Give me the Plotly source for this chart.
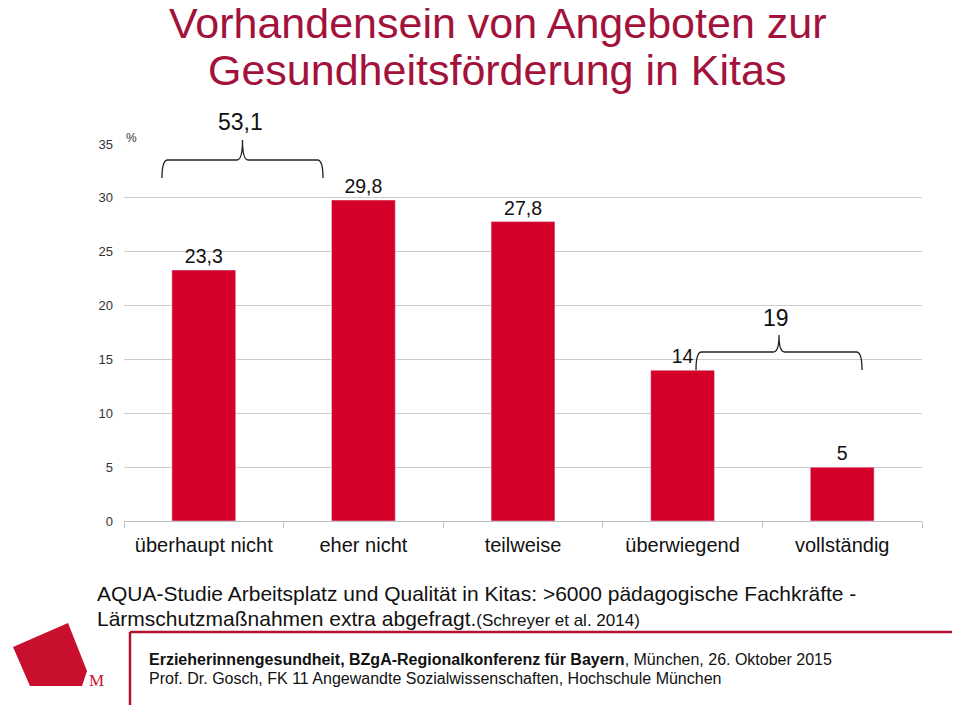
import plotly.graph_objects as go

categories = ["überhaupt nicht", "eher nicht", "teilweise", "überwiegend", "vollständig"]
values = [23.3, 29.8, 27.8, 14, 5]
y_ticks = [0, 5, 10, 15, 20, 25, 30, 35]
title_lines = ["Vorhandensein von Angeboten zur", "Gesundheitsförderung in Kitas"]

OFF = 8  # page body margin
W, H = 960 - OFF, 705 - OFF
L, R, T, B = 124, 922, 144, 521  # plot area in page pixels
YMAX = 35

def px(x):
    return (x - L) / (R - L)

def py(y):
    return (B - y) / (B - T)

def fmt(v):
    return f"{v:g}".replace(".", ",")

bar_color = "#d4002a"
dark_red = "#a3123a"
frame_red = "#b3122e"
font = "Liberation Sans, Arial, sans-serif"

fig = go.Figure()
fig.add_trace(go.Bar(
    x=categories, y=values, marker_color=bar_color, width=0.4,
    text=[fmt(v) for v in values], textposition="outside",
    textfont=dict(size=19.5, color="#111111", family=font),
    cliponaxis=False, hoverinfo="skip",
))

def bracket(x0, x1, y_end, y_h, y_peak, r=0.007):
    xm = (x0 + x1) / 2
    return (f"M {x0},{y_end} Q {x0},{y_h} {x0+r},{y_h} L {xm-r},{y_h} "
            f"Q {xm},{y_h} {xm},{y_peak} Q {xm},{y_h} {xm+r},{y_h} "
            f"L {x1-r},{y_h} Q {x1},{y_h} {x1},{y_end}")

shapes = [
    dict(type="path", xref="paper", yref="paper",
         path=bracket(px(162), px(323), py(178), py(160), py(140)),
         line=dict(color="#222222", width=1.3)),
    dict(type="path", xref="paper", yref="paper",
         path=bracket(px(696), px(862), py(370), py(352), py(335)),
         line=dict(color="#222222", width=1.3)),
    # footer frame
    dict(type="line", xref="paper", yref="paper",
         x0=px(130), x1=px(962), y0=py(632), y1=py(632),
         line=dict(color=frame_red, width=2.5)),
    dict(type="line", xref="paper", yref="paper",
         x0=px(130), x1=px(130), y0=py(632), y1=py(707),
         line=dict(color=frame_red, width=2.5)),
    # logo
    dict(type="path", xref="paper", yref="paper", layer="below",
         path=(f"M {px(13)},{py(647)} L {px(68)},{py(623)} L {px(87)},{py(671)} "
               f"L {px(82)},{py(686)} L {px(30)},{py(686)} Z"),
         fillcolor="#c8102e", line=dict(width=0)),
]

annotations = [
    dict(text=fmt(round(values[0] + values[1], 1)), x=px(240), y=py(122),
         font=dict(size=23, color="#111111", family=font)),
    dict(text=fmt(round(values[3] + values[4], 1)), x=px(776), y=py(318),
         font=dict(size=23, color="#111111", family=font)),
    dict(text="%", x=px(131), y=py(138), font=dict(size=12, color="#333333", family=font)),
    dict(text=title_lines[0], x=px(497), y=py(23), font=dict(size=43, color=dark_red, family=font)),
    dict(text=title_lines[1], x=px(497), y=py(70), font=dict(size=43, color=dark_red, family=font)),
    dict(text="AQUA-Studie Arbeitsplatz und Qualität in Kitas: >6000 pädagogische Fachkräfte -",
         x=px(95), y=py(593), xanchor="left", font=dict(size=21, color="#111111", family=font)),
    dict(text="Lärmschutzmaßnahmen extra abgefragt.<span style='font-size:17px'>(Schreyer et al. 2014)</span>",
         x=px(95), y=py(618), xanchor="left", font=dict(size=21, color="#111111", family=font)),
    dict(text="<b>Erzieherinnengesundheit, BZgA-Regionalkonferenz für Bayern</b>, München, 26. Oktober 2015",
         x=px(147), y=py(659), xanchor="left", font=dict(size=16, color="#111111", family=font)),
    dict(text="Prof. Dr. Gosch, FK 11 Angewandte Sozialwissenschaften, Hochschule München",
         x=px(147), y=py(678), xanchor="left", font=dict(size=16, color="#111111", family=font)),
    dict(text="M", x=px(96), y=py(680), font=dict(size=17, color="#c8102e", family="Liberation Serif, serif")),
]
for a in annotations:
    a.setdefault("xanchor", "center")
    a.update(xref="paper", yref="paper", showarrow=False, yanchor="middle")

fig.update_layout(
    width=W, height=H,
    margin=dict(l=L - OFF, r=960 - R, t=T - OFF, b=705 - B, pad=0),
    paper_bgcolor="white", plot_bgcolor="white",
    showlegend=False, bargap=0.6,
    font=dict(family=font),
    shapes=shapes, annotations=annotations,
    xaxis=dict(showline=True, linecolor="#bfbfbf", linewidth=1,
               ticks="outside", tickson="boundaries", ticklen=6, tickcolor="#bfbfbf",
               tickfont=dict(size=20, color="#111111", family=font),
               ticklabelstandoff=6, showgrid=False, fixedrange=True),
    yaxis=dict(range=[0, YMAX], tickvals=y_ticks, showgrid=True, gridcolor="#cccccc",
               gridwidth=1, zeroline=False, showline=False,
               tickfont=dict(size=13, color="#333333", family=font),
               ticklabelstandoff=10, fixedrange=True),
)

fig.write_html("out.html")
